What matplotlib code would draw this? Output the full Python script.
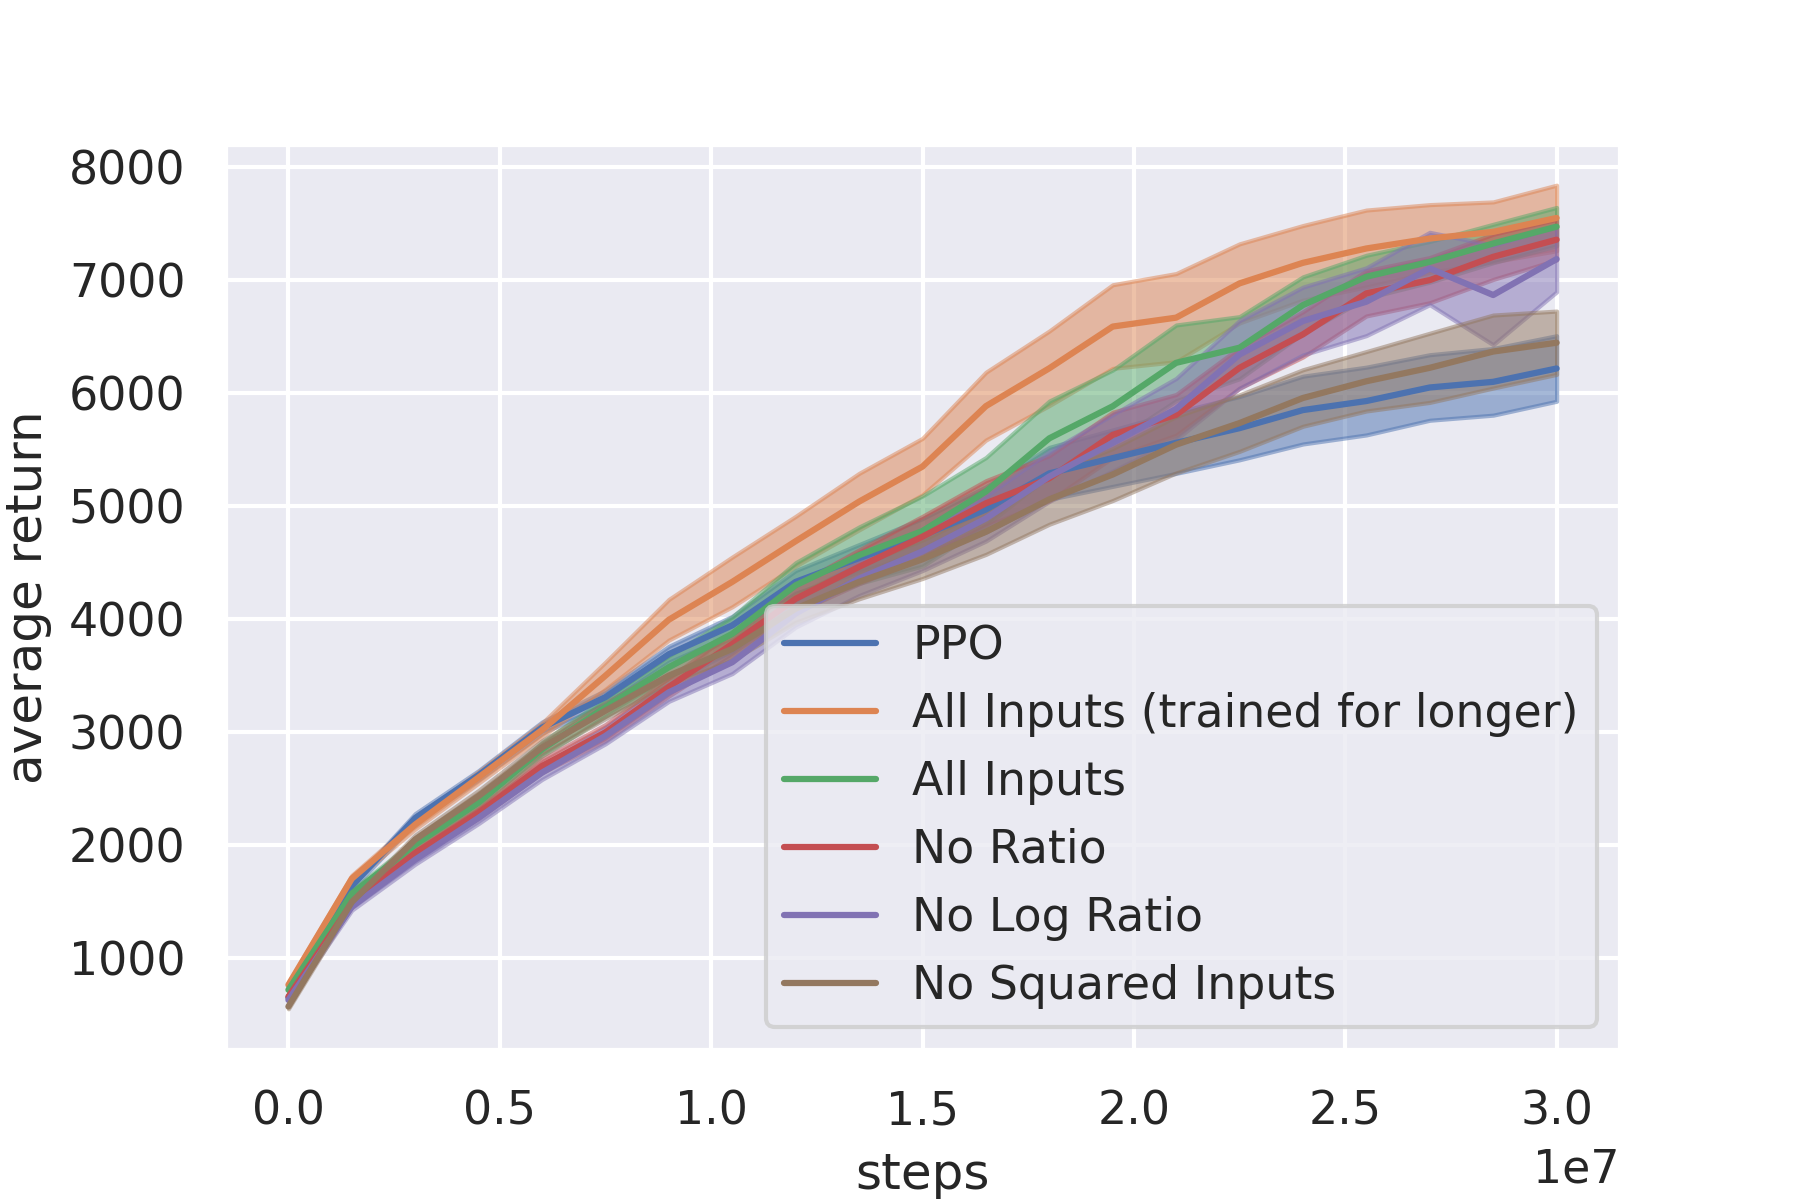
import numpy as np
import seaborn as sns
from matplotlib import pyplot as plt

steps = [0, 1.5e6, 3.0e6, 4.5e6, 6.0e6, 7.5e6, 9.0e6, 10.5e6, 12.0e6, 13.5e6, 15.0e6,
         16.5e6, 18.0e6, 19.5e6, 21.0e6, 22.5e6, 24.0e6, 25.5e6, 27.0e6, 28.5e6, 30.0e6]

labels = ["PPO", "All Inputs (trained for longer)", "All Inputs",
          "No Ratio", "No Log Ratio", "No Squared Inputs"]

# mean returns
ppo = [650, 1640, 2240, 2620, 3040, 3310, 3690, 3945, 4330, 4540, 4740,
       4970, 5290, 5425, 5560, 5690, 5850, 5930, 6050, 6100, 6218]
all_long = [764, 1704, 2183, 2600, 3020, 3500, 3995, 4330, 4690, 5040, 5350,
            5885, 6220, 6589, 6668, 6971, 7153, 7280, 7368, 7427, 7550]
all_inputs = [720, 1572, 2005, 2376, 2849, 3220, 3575, 3870, 4300, 4566, 4780,
              5130, 5600, 5884, 6268, 6402, 6779, 7030, 7162, 7324, 7473]
no_ratio = [660, 1485, 1931, 2287, 2701, 2998, 3400, 3780, 4180, 4463, 4730,
            5025, 5247, 5631, 5808, 6224, 6520, 6883, 7000, 7206, 7358]
no_log_ratio = [630, 1455, 1872, 2242, 2642, 2967, 3353, 3619, 4050, 4359, 4600,
                4891, 5262, 5560, 5860, 6342, 6638, 6809, 7103, 6868, 7186]
no_squared = [572, 1497, 2050, 2435, 2864, 3190, 3500, 3737, 4093, 4330, 4530,
              4773, 5060, 5280, 5544, 5735, 5957, 6105, 6224, 6368, 6446]

# half width of the shaded band
ppo_err = [20, 30, 40, 40, 50, 60, 70, 80, 100, 120, 150,
           200, 230, 250, 270, 280, 300, 300, 290, 295, 290]
all_long_err = [20, 30, 40, 50, 60, 120, 180, 220, 220, 250, 250,
                300, 330, 370, 390, 350, 330, 340, 300, 265, 290]
all_inputs_err = [20, 30, 40, 50, 60, 80, 100, 150, 200, 250, 310,
                  300, 330, 320, 335, 275, 250, 190, 180, 170, 170]
no_ratio_err = [20, 30, 40, 50, 60, 70, 80, 100, 120, 150, 180,
                200, 200, 200, 180, 180, 200, 200, 200, 200, 180]
no_log_ratio_err = [20, 30, 40, 50, 60, 70, 80, 100, 120, 150, 170,
                    200, 220, 250, 270, 300, 300, 300, 320, 440, 290]
no_squared_err = [20, 30, 40, 50, 60, 70, 80, 100, 120, 150, 170,
                  200, 220, 230, 250, 250, 250, 263, 306, 323, 280]

means = [ppo, all_long, all_inputs, no_ratio, no_log_ratio, no_squared]
errs = [ppo_err, all_long_err, all_inputs_err, no_ratio_err, no_log_ratio_err, no_squared_err]

sns.set()
fig = plt.figure(figsize=(6, 4), dpi=300)
fig.subplots_adjust(bottom=0.125)
x = np.array(steps)
for label, m, e in zip(labels, means, errs):
	m = np.array(m)
	e = np.array(e)
	line, = plt.plot(x, m, label=label)
	plt.fill_between(x, m - e, m + e, color=line.get_color(), alpha=0.5)

plt.xlabel("steps")
plt.ylabel("average return")
plt.legend(loc="lower right")
plt.savefig("out.png", dpi=300)
